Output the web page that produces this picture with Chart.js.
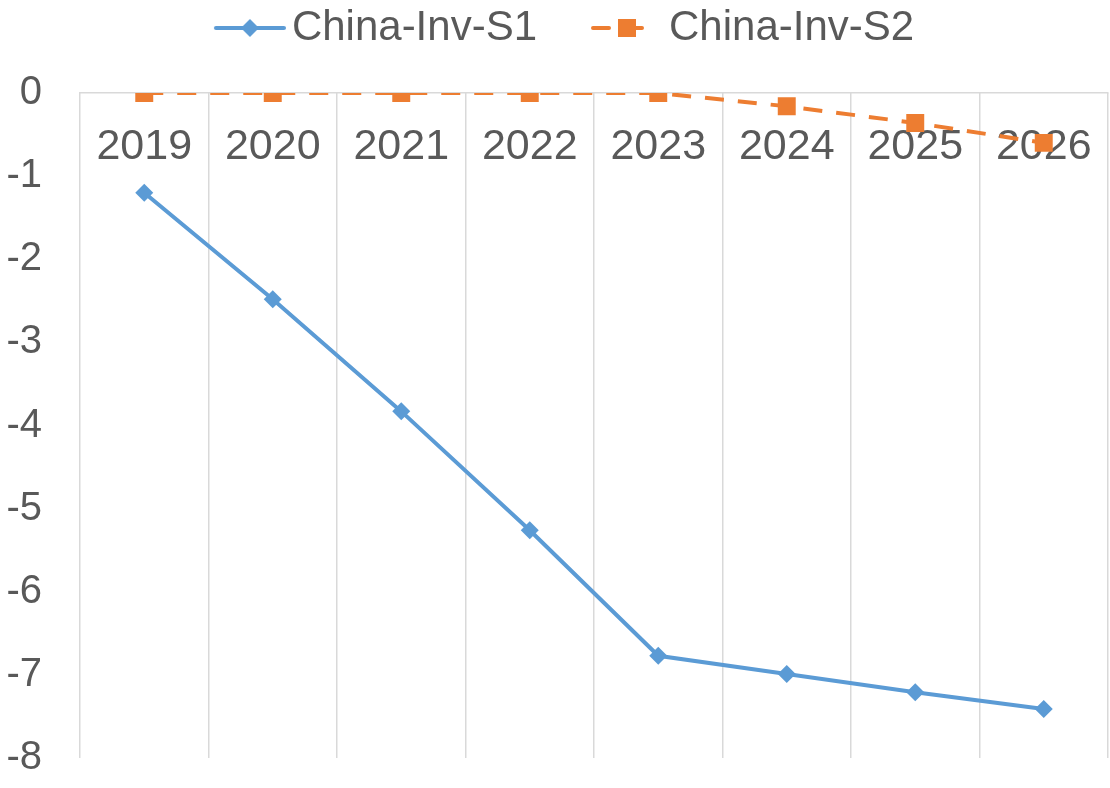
<!DOCTYPE html>
<html>
<head>
<meta charset="utf-8">
<script src="https://cdn.jsdelivr.net/npm/chart.js@4.4.1/dist/chart.umd.min.js"></script>
<style>
  html, body { margin: 0; padding: 0; background: #fff; }
  #grafico { display: block; }
</style>
</head>
<body>
<canvas id="grafico" width="1110" height="788"></canvas>
<script>
// datos de la grafica
const years = ['2019', '2020', '2021', '2022', '2023', '2024', '2025', '2026'];
const invS1 = [-1.20, -2.48, -3.83, -5.26, -6.77, -6.99, -7.21, -7.41];
const invS2 = [0, 0, 0, 0, 0, -0.16, -0.36, -0.60];
const seriesNames = ['China-Inv-S1', 'China-Inv-S2'];

const AZUL = '#5b9bd5';
const NARANJA = '#ed7d31';
const GRIS_TEXTO = '#595959';
const GRIS_LINEA = '#d9d9d9';
const FUENTE = "'Liberation Sans', Arial, sans-serif";

// icono de leyenda: linea con su marcador (como en Excel)
// el lienzo lleva margen transparente a la izquierda para cuadrar con el texto
function iconoLeyenda(color, tipo) {
  const c = document.createElement('canvas');
  c.width = 134;
  c.height = 24;
  const g = c.getContext('2d');
  const x0 = 62, cy = 12, cx = x0 + 36;
  g.strokeStyle = color;
  g.fillStyle = color;
  g.lineWidth = 4;
  g.lineCap = 'round';
  g.beginPath();
  if (tipo === 'diamante') {
    g.moveTo(x0 + 2, cy);
    g.lineTo(x0 + 70, cy);
    g.stroke();
    g.beginPath();
    g.moveTo(cx, cy - 9);
    g.lineTo(cx + 9, cy);
    g.lineTo(cx, cy + 9);
    g.lineTo(cx - 9, cy);
    g.closePath();
    g.fill();
  } else {
    g.moveTo(x0 + 2, cy);
    g.lineTo(x0 + 18, cy);
    g.moveTo(x0 + 44, cy);
    g.lineTo(x0 + 51, cy);
    g.stroke();
    g.fillRect(cx - 9, cy - 9, 18, 18);
  }
  return c;
}

const iconos = [iconoLeyenda(AZUL, 'diamante'), iconoLeyenda(NARANJA, 'cuadro')];

// la caja de la leyenda ocupa toda la franja superior hasta el eje
const alturaLeyenda = {
  id: 'alturaLeyenda',
  beforeLayout(chart) {
    const lg = chart.legend;
    if (lg && !lg._alturaFija) {
      const fitOriginal = lg.fit;
      lg.fit = function () {
        fitOriginal.call(this);
        this.height = 93;
      };
      lg._alturaFija = true;
    }
  }
};

const ctx = document.getElementById('grafico').getContext('2d');

const chart = new Chart(ctx, {
  type: 'line',
  data: {
    labels: years,
    datasets: [{
      label: seriesNames[0],
      data: invS1,
      borderColor: AZUL,
      backgroundColor: AZUL,
      borderWidth: 4,
      pointStyle: 'rectRot',
      pointRadius: 9,
      pointBorderWidth: 0,
      tension: 0
    }, {
      label: seriesNames[1],
      data: invS2,
      borderColor: NARANJA,
      backgroundColor: NARANJA,
      borderWidth: 4,
      borderDash: [19, 14],
      pointStyle: 'rect',
      pointRadius: 12.7,
      pointBorderWidth: 0,
      tension: 0
    }]
  },
  plugins: [alturaLeyenda],
  options: {
    responsive: false,
    animation: false,
    devicePixelRatio: 1,
    layout: {
      autoPadding: false,
      padding: { left: -27, right: 2, top: 0, bottom: 0 }
    },
    plugins: {
      tooltip: { enabled: false },
      legend: {
        position: 'top',
        labels: {
          usePointStyle: true,
          pointStyleWidth: 104,
          padding: 7,
          color: GRIS_TEXTO,
          font: { family: FUENTE, size: 42 },
          generateLabels: (c) => c.data.datasets.map((ds, i) => ({
            text: ds.label,
            pointStyle: iconos[i],
            fontColor: GRIS_TEXTO,
            fillStyle: ds.borderColor,
            strokeStyle: ds.borderColor,
            lineWidth: 0,
            hidden: false,
            datasetIndex: i
          }))
        }
      }
    },
    scales: {
      x: {
        type: 'category',
        position: { y: 0 },
        offset: true,
        grid: {
          offset: true,
          color: GRIS_LINEA,
          lineWidth: 1.5,
          drawTicks: false
        },
        border: { color: GRIS_LINEA, width: 1.5 },
        ticks: {
          color: GRIS_TEXTO,
          // interlineado alto para bajar los años sin ensanchar el eje
          font: { family: FUENTE, size: 43, lineHeight: 2.5 },
          padding: 0,
          maxRotation: 0,
          autoSkip: false
        },
        afterFit: (s) => {
          s.paddingLeft = 0;
          s.paddingRight = 0;
        }
      },
      y: {
        min: -8,
        max: 0,
        grid: { display: false, drawTicks: false },
        border: { display: false },
        ticks: {
          stepSize: 1,
          color: GRIS_TEXTO,
          font: { family: FUENTE, size: 40 },
          padding: 38
        },
        // ancho fijo del eje y margen inferior del area de trazado
        afterFit: (s) => {
          s.width = 107;
          s.paddingTop = 0;
          s.paddingBottom = 30;
        }
      }
    }
  }
});
</script>
</body>
</html>
